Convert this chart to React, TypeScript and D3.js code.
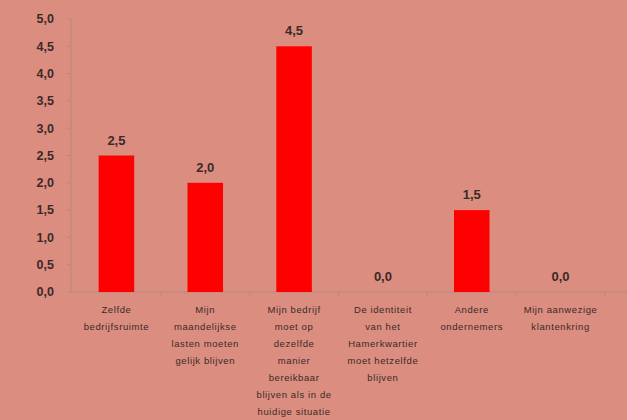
import React from "react";
import * as d3 from "d3";

const categories = [
  "Zelfde bedrijfsruimte",
  "Mijn maandelijkse lasten moeten gelijk blijven",
  "Mijn bedrijf moet op dezelfde manier bereikbaar blijven als in de huidige situatie",
  "De identiteit van het Hamerkwartier moet hetzelfde blijven",
  "Andere ondernemers",
  "Mijn aanwezige klantenkring",
];
const categoryLines = [
  ["Zelfde", "bedrijfsruimte"],
  ["Mijn", "maandelijkse", "lasten moeten", "gelijk blijven"],
  ["Mijn bedrijf", "moet op", "dezelfde", "manier", "bereikbaar", "blijven als in de", "huidige situatie"],
  ["De identiteit", "van het", "Hamerkwartier", "moet hetzelfde", "blijven"],
  ["Andere", "ondernemers"],
  ["Mijn aanwezige", "klantenkring"],
];
const values = [2.5, 2.0, 4.5, 0.0, 1.5, 0.0];
const yTicks = [0, 0.5, 1, 1.5, 2, 2.5, 3, 3.5, 4, 4.5, 5];

const W = 627;
const H = 420;
const fmt = (v: number) => v.toFixed(1).replace(".", ",");

export default function App() {
  const x = d3
    .scaleBand<string>()
    .domain(categories)
    .range([72, 605])
    .paddingInner(0.6)
    .paddingOuter(0.3);
  const y = d3.scaleLinear().domain([0, 5]).range([292, 19]);
  const step = x.step();
  const bandStart = (c: string) => (x(c) as number) - x.paddingOuter() * step;

  return (
    <svg
      width={W}
      height={H}
      style={{ position: "absolute", left: 0, top: 0, display: "block" }}
      fontFamily="'Liberation Sans', Arial, sans-serif"
    >
      <rect x={0} y={0} width={W} height={H} fill="#DB8D80" />
      <line x1={71} x2={71} y1={y(5)} y2={y(0)} stroke="#B9877F" strokeWidth={1} />
      {yTicks.map((t) => (
        <g key={t}>
          <line x1={67} x2={71} y1={y(t)} y2={y(t)} stroke="#B9877F" />
          <text
            x={54}
            y={y(t)}
            dy="0.35em"
            textAnchor="end"
            fontSize={12.5}
            fontWeight="bold"
            fill="#3a2a28"
          >
            {fmt(t)}
          </text>
        </g>
      ))}
      <line x1={71} x2={W} y1={y(0)} y2={y(0)} stroke="#B9877F" strokeWidth={1} />
      {categories.map((c) => (
        <line
          key={"t" + c}
          x1={bandStart(c) + step}
          x2={bandStart(c) + step}
          y1={y(0)}
          y2={y(0) + 4}
          stroke="#B9877F"
        />
      ))}
      {categories.map((c, i) => (
        <rect
          key={"b" + c}
          x={x(c)}
          y={y(values[i])}
          width={x.bandwidth()}
          height={y(0) - y(values[i])}
          fill="#FF0000"
        />
      ))}
      {categories.map((c, i) => (
        <text
          key={"v" + c}
          x={(x(c) as number) + x.bandwidth() / 2}
          y={y(values[i]) - 11}
          textAnchor="middle"
          fontSize={13}
          fontWeight="bold"
          fill="#3a2a28"
        >
          {fmt(values[i])}
        </text>
      ))}
      {categories.map((c, i) => (
        <text
          key={"c" + c}
          textAnchor="middle"
          fontSize={9.5}
          fill="#3a2a28"
          letterSpacing={0.6}
        >
          {categoryLines[i].map((ln, j) => (
            <tspan key={j} x={(x(c) as number) + x.bandwidth() / 2} y={310 + j * 17} dy="0.35em">
              {ln}
            </tspan>
          ))}
        </text>
      ))}
    </svg>
  );
}
